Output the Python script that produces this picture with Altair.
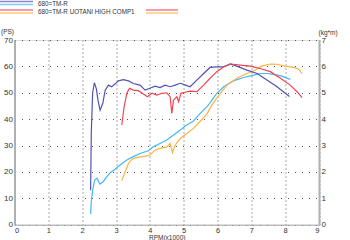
import altair as alt
import pandas as pd

# ---- data ----
stock_tq_rpm = [2.25, 2.27, 2.31, 2.36, 2.42, 2.47, 2.53, 2.61, 2.68, 2.78, 2.87, 2.97, 3.07, 3.22, 3.37,
                3.51, 3.71, 3.86, 4.0, 4.16, 4.3, 4.45, 4.6, 4.75, 4.9, 5.04, 5.19, 5.39, 5.59, 5.78,
                5.98, 6.18, 6.38, 6.57, 6.87, 7.17, 7.46, 7.76, 8.0, 8.13]
stock_tq = [1.31, 3.5, 5.0, 5.38, 5.15, 4.7, 4.34, 4.6, 5.1, 5.29, 5.23, 5.33, 5.45, 5.5, 5.45,
            5.35, 5.29, 5.1, 5.17, 5.25, 5.2, 5.29, 5.23, 5.29, 5.36, 5.3, 5.23, 5.48, 5.73, 5.96,
            5.98, 5.98, 6.09, 6.01, 5.86, 5.73, 5.48, 5.23, 4.98, 4.86]

stock_ps_rpm = [2.25, 2.27, 2.32, 2.37, 2.44, 2.52, 2.62, 2.73, 2.83, 2.97, 3.12, 3.32, 3.51, 3.71, 3.96,
                4.1, 4.3, 4.5, 4.7, 4.9, 5.09, 5.29, 5.49, 5.73, 5.98, 6.18, 6.47, 6.77, 7.07, 7.26,
                7.46, 7.66, 7.9, 8.15]
stock_ps = [4.0, 9.0, 13.8, 16.9, 17.6, 15.4, 16.3, 18.2, 19.7, 21.0, 22.6, 24.5, 25.8, 27.0, 28.0,
            29.5, 30.8, 32.1, 34.0, 35.9, 37.8, 39.3, 42.2, 45.3, 49.8, 52.3, 54.5, 55.8, 56.7, 57.3,
            57.3, 57.0, 56.3, 55.1]

uotani_tq_rpm = [3.17, 3.24, 3.32, 3.4, 3.51, 3.66, 3.81, 3.93, 4.06, 4.21, 4.36, 4.5, 4.6, 4.65, 4.7,
                 4.8, 4.85, 4.92, 5.04, 5.19, 5.39, 5.59, 5.78, 5.98, 6.18, 6.38, 6.67, 6.97, 7.26,
                 7.56, 7.86, 8.15, 8.35, 8.5]
uotani_tq = [3.78, 4.47, 4.98, 5.17, 5.1, 5.08, 4.95, 4.85, 4.98, 4.91, 4.98, 5.0, 4.85, 4.22, 4.72,
             4.85, 4.66, 4.98, 5.02, 5.06, 5.04, 5.29, 5.55, 5.8, 5.98, 6.09, 6.05, 6.01, 5.92,
             5.8, 5.55, 5.29, 5.04, 4.82]

uotani_ps_rpm = [3.17, 3.27, 3.37, 3.47, 3.61, 3.81, 4.0, 4.16, 4.3, 4.5, 4.6, 4.67, 4.75, 4.9, 5.09,
                 5.29, 5.49, 5.69, 5.83, 6.08, 6.28, 6.57, 6.87, 7.12, 7.31, 7.56, 7.76, 8.0, 8.25,
                 8.4, 8.5]
uotani_ps = [16.7, 20.1, 23.3, 24.8, 25.5, 25.8, 26.4, 28.3, 28.9, 29.5, 30.8, 27.3, 30.2, 32.7, 34.6,
             36.5, 39.2, 42.0, 45.3, 49.8, 52.9, 55.5, 57.3, 58.6, 60.1, 60.9, 60.8, 60.1, 59.6,
             58.9, 57.3]

series_names = ["680=TM-R PS", "680=TM-R Torque", "UOTANI PS", "UOTANI Torque"]
series_colors = ["#44b8f6", "#5252b2", "#ffb142", "#f04454"]


def frame(name, rpm, val):
    return pd.DataFrame({"series": name, "rpm": rpm, "val": val, "i": list(range(len(rpm)))})


ps_df = pd.concat([frame(series_names[0], stock_ps_rpm, stock_ps),
                   frame(series_names[2], uotani_ps_rpm, uotani_ps)])
tq_df = pd.concat([frame(series_names[1], stock_tq_rpm, stock_tq),
                   frame(series_names[3], uotani_tq_rpm, uotani_tq)])

x_ticks = list(range(0, 10))
ps_ticks = list(range(0, 80, 10))
tq_ticks = list(range(0, 8))

color_scale = alt.Scale(domain=series_names, range=series_colors)

x_axis = alt.Axis(values=x_ticks, title="RPM(x1000)", ticks=False, labelOverlap=False,
                  labelFontSize=7.5, labelColor="#333", labelPadding=1.5,
                  domainColor="#aaa", domainWidth=1,
                  grid=True, gridDash=[1, 3], gridColor="#555", gridWidth=1,
                  titleFontSize=6.5, titleFontWeight="normal", titleColor="#333",
                  titleBaseline="middle", titleY=12.3)
x_scale = alt.Scale(domain=[0, 9], nice=False, zero=False)

ps_layer = alt.Chart(ps_df).mark_line(strokeWidth=1.2).encode(
    x=alt.X("rpm:Q", scale=x_scale, axis=x_axis),
    y=alt.Y("val:Q", scale=alt.Scale(domain=[0, 70], nice=False),
            axis=alt.Axis(orient="left", values=ps_ticks, ticks=False, labelFontSize=8,
                          labelOverlap=False,
                          labelColor="#333", labelPadding=2, domainColor="#b0b0b0", domainWidth=2,
                          grid=True, gridDash=[1, 6], gridColor="#555", gridWidth=1,
                          title="(PS)", titleAngle=0, titleAlign="left", titleBaseline="bottom",
                          titleX=-14, titleY=-6, titleFontSize=6.5, titleFontWeight="normal",
                          titleColor="#333")),
    color=alt.Color("series:N", scale=color_scale, legend=None),
    detail="series:N",
    order=alt.Order("i:Q"),
)

tq_layer = alt.Chart(tq_df).mark_line(strokeWidth=1.2).encode(
    x=alt.X("rpm:Q", scale=x_scale, axis=x_axis),
    y=alt.Y("val:Q", scale=alt.Scale(domain=[0, 7], nice=False),
            axis=alt.Axis(orient="right", values=tq_ticks, ticks=False, labelFontSize=8,
                          labelOverlap=False,
                          labelColor="#333", labelPadding=2, domainColor="#b0b0b0", domainWidth=2,
                          grid=False,
                          title="(kg*m)", titleAngle=0, titleAlign="left", titleBaseline="bottom",
                          titleX=-1, titleY=-5, titleFontSize=6.5, titleFontWeight="normal",
                          titleColor="#333")),
    color=alt.Color("series:N", scale=color_scale, legend=None),
    detail="series:N",
    order=alt.Order("i:Q"),
)

one = pd.DataFrame({"k": [0]})


def leg_line(x1, x2, y, color):
    return alt.Chart(one).mark_rule(strokeWidth=1.5, opacity=0.7, color=color).encode(
        x=alt.value(x1), x2=alt.value(x2), y=alt.value(y))


def leg_text(x, y, txt):
    return alt.Chart(one).mark_text(align="left", baseline="middle", fontSize=6.3,
                                    color="#333").encode(
        x=alt.value(x), y=alt.value(y), text=alt.value(txt))


legend_layers = [
    leg_line(-14.5, 18.5, -38.5, series_colors[1]),
    leg_line(-14.5, 18.5, -35.5, series_colors[0]),
    leg_text(23.5, -36.5, "680=TM-R"),
    leg_line(-14.5, 18.5, -30, series_colors[3]),
    leg_line(-14.5, 18.5, -27, series_colors[2]),
    leg_text(23.5, -28.5, "680=TM-R  UOTANI HIGH COMP1"),
    leg_line(131.5, 163.5, -30, series_colors[3]),
    leg_line(131.5, 163.5, -27, series_colors[2]),
]

chart = alt.layer(ps_layer, tq_layer, *legend_layers).resolve_scale(
    y="independent", color="shared"
).properties(
    width=304.5, height=184.7,
    autosize=alt.AutoSizeParams(type="none"),
    padding={"left": 14.5, "top": 40, "right": 31, "bottom": 15.3},
    background="white",
).configure_view(strokeWidth=0).configure(font="Liberation Sans")

chart.save("out.html", embed_options={"renderer": "svg", "actions": False})
